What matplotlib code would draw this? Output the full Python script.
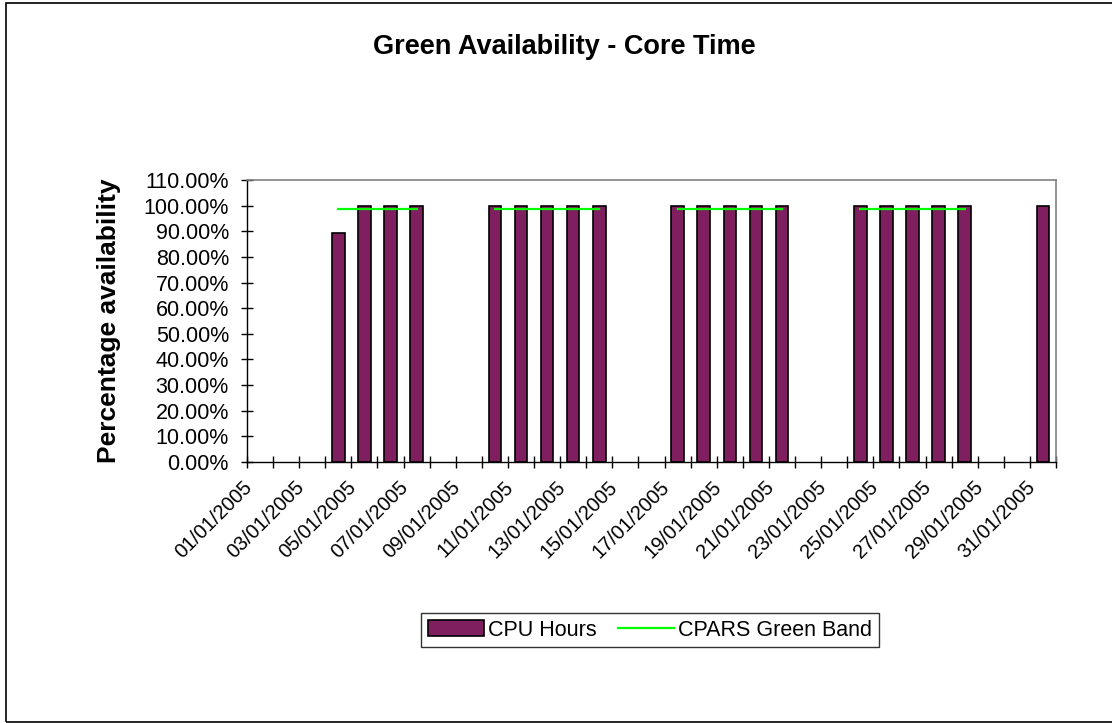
import numpy as np
import matplotlib.pyplot as plt
import matplotlib.patches as mpatches
import matplotlib.lines as mlines
import matplotlib.transforms as mtransforms
from matplotlib.ticker import PercentFormatter, FixedLocator

plt.rcParams['font.family'] = ['Liberation Sans', 'DejaVu Sans']

# Days of January 2005
days = [f"{d:02d}/01/2005" for d in range(1, 32)]

# Percentage availability per day (nan = no bar)
nan = np.nan
cpu_hours = [nan, nan, nan, 0.894, 1.0, 1.0, 1.0, nan, nan,
             1.0, 1.0, 1.0, 1.0, 1.0, nan, nan,
             1.0, 1.0, 1.0, 1.0, 1.0, nan, nan,
             1.0, 1.0, 1.0, 1.0, 1.0, nan, nan,
             1.0]

# CPARS green band target (weekdays only)
green_band = [nan, nan, nan, 0.986, 0.986, 0.986, 0.986, nan, nan,
              0.986, 0.986, 0.986, 0.986, 0.986, nan, nan,
              0.986, 0.986, 0.986, 0.986, 0.986, nan, nan,
              0.986, 0.986, 0.986, 0.986, 0.986, nan, nan,
              nan]

W, H = 1112, 723
fig = plt.figure(figsize=(W / 100, H / 100), dpi=100)
ax = fig.add_axes([247 / W, 1 - 462 / H, (1056 - 247) / W, (462 - 180) / H])

x = np.arange(len(days))
ax.bar(x, cpu_hours, width=0.48, color='#7f1f5f', edgecolor='black', linewidth=1.2)
ax.plot(x, green_band, color='#00ff00', linewidth=1.6)

ax.set_xlim(-0.5, len(days) - 0.5)
ax.set_ylim(0, 1.1)

# y axis: percent ticks every 10%
ax.set_yticks(np.arange(0, 1.101, 0.1))
ax.yaxis.set_major_formatter(PercentFormatter(xmax=1, decimals=2))
ax.tick_params(axis='y', direction='inout', length=8, width=1, labelsize=15.5, pad=9)

# x axis: tick marks at category borders, labels every second day
ax.xaxis.set_major_locator(FixedLocator(x[::2]))
ax.set_xticklabels(days[::2], rotation=45, ha='right', va='center',
                   rotation_mode='anchor', fontsize=14.5)
ax.xaxis.set_minor_locator(FixedLocator(np.arange(-0.5, len(days), 1.0)))
ax.tick_params(axis='x', which='major', length=0, pad=16)
ax.tick_params(axis='x', which='minor', direction='inout', length=8, width=1)
shift = mtransforms.ScaledTranslation(-0.11, 0, fig.dpi_scale_trans)
for lab in ax.get_xticklabels():
    lab.set_transform(lab.get_transform() + shift)

for s in ['left', 'bottom']:
    ax.spines[s].set_color('black')
    ax.spines[s].set_linewidth(1)
for s in ['top', 'right']:
    ax.spines[s].set_color('#808080')
    ax.spines[s].set_linewidth(1.2)

fig.text(564 / W, 1 - 47 / H, "Green Availability - Core Time",
         ha='center', va='center', fontsize=19.5, fontweight='bold')
fig.text(109 / W, 1 - 321 / H, "Percentage availability", rotation=90,
         ha='center', va='center', fontsize=19, fontweight='bold')

# legend
h_bar = mpatches.Patch(facecolor='#7f1f5f', edgecolor='black', linewidth=1.2)
h_line = mlines.Line2D([], [], color='#00ff00', linewidth=1.6)
leg = fig.legend([h_bar, h_line], ["CPU Hours", "CPARS Green Band"],
                 loc='center', bbox_to_anchor=(650 / W, 1 - 630 / H),
                 ncol=2, fontsize=15.5, frameon=True, fancybox=False,
                 borderpad=0.3, handlelength=2.6, handletextpad=0.2,
                 columnspacing=1.0, borderaxespad=0)
leg.get_frame().set_edgecolor('black')
leg.get_frame().set_linewidth(1)

# outer chart border
fig.patches.append(mpatches.Rectangle((6 / W, 1 - 722 / H), 1.2, (722 - 3) / H,
                                      transform=fig.transFigure, fill=False,
                                      edgecolor='black', linewidth=1.2))

plt.savefig('out.png', dpi=100)
